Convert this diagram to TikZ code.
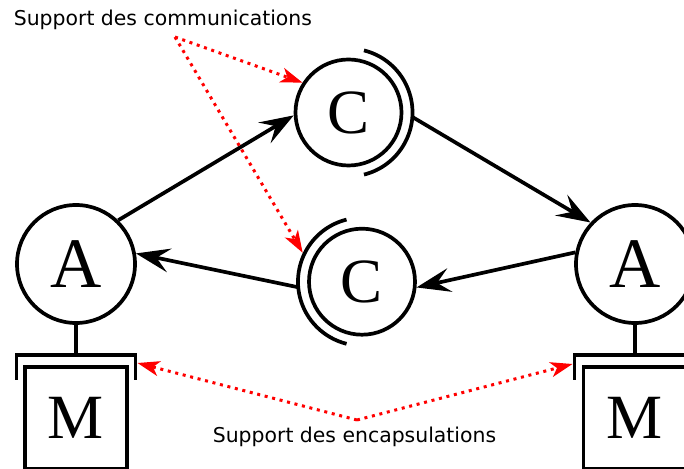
\documentclass[tikz,border=0pt]{standalone}
\usepackage{fontspec}
\setmainfont{DejaVu Sans}
\newfontfamily\letterfont{Liberation Serif}
\usetikzlibrary{%
  arrows.meta,%
  calc,%
  positioning%
}

\begin{document}
\begin{tikzpicture}[
  x=1pt, y=1pt, line width=3.7pt,
  font=\fontsize{20.4}{24}\selectfont,
  actor/.style={circle, minimum size=118pt, inner sep=0pt, draw=black, font=\letterfont\fontsize{71}{71}\selectfont},
  comm/.style={circle, minimum size=106pt, inner sep=0pt, draw=black, font=\letterfont\fontsize{63}{63}\selectfont},
  module/.style={rectangle, minimum size=102pt, inner sep=0pt, draw=black, font=\letterfont\fontsize{63}{63}\selectfont},
  flow/.style={-{Stealth[length=34pt,width=24pt,inset=13pt]}},
  support/.style={red, line width=3pt, dash pattern=on 3pt off 4.7pt, -{Stealth[length=22pt,width=15pt,inset=6pt]}}
]

\useasboundingbox (0,0) rectangle (684,468);
\clip (0,0) rectangle (684,468);

\node[actor] (aL) at (76,204) {A};
\node[actor] (aR) at (635,204) {A};
\node[comm] (cT) at (348.5,355.5) {C};
\node[comm] (cB) at (362,186.3) {C};
\node[module] (mL) at (76,50.3) {M};
\node[module] (mR) at (634.5,50.3) {M};

\coordinate (bL) at (76,113);
\coordinate (bR) at (635,113);
\coordinate (cTout) at ($(cT)+(-4:64)$);
\coordinate (cBout) at ($(cB)+(185:64)$);

\draw ($(cT)+(-76:64)$) arc[start angle=-76, end angle=76, radius=64];
\draw ($(cB)+(104:64)$) arc[start angle=104, end angle=256, radius=64];

\draw ($(bL)+(-59.5,-25)$) |- ($(bL)+(59.5,0)$) -- ++(0,-25);
\draw ($(bR)+(-60.5,-25)$) |- ($(bR)+(59.5,0)$) -- ++(0,-25);
\draw (aL) -- (bL);
\draw (aR) -- (bR);

\draw[flow] (aL.46) -- (cT.183);
\draw[flow] (cTout) -- (aR.137);
\draw[flow] (cBout) -- (aL.10);
\draw[flow] (aR.169) -- (cB.-6);

\node[anchor=base west, inner sep=0pt] (lcom) at (12,442) {Support des communications};
\node[anchor=base, inner sep=0pt] (lenc) at (354.5,26) {Support des encapsulations};

\coordinate (com) at (175,431);
\coordinate (enc) at (357,48);
\coordinate (cBhit) at ($(cB)+(154:66)$);
\coordinate (bLhit) at (137.5,105);
\coordinate (bRhit) at (572.5,104);

\draw[support] (com) -- (cT.147);
\draw[support] (com) -- (cBhit);
\draw[support] (enc) -- (bLhit);
\draw[support] (enc) -- (bRhit);

\end{tikzpicture}
\end{document}
